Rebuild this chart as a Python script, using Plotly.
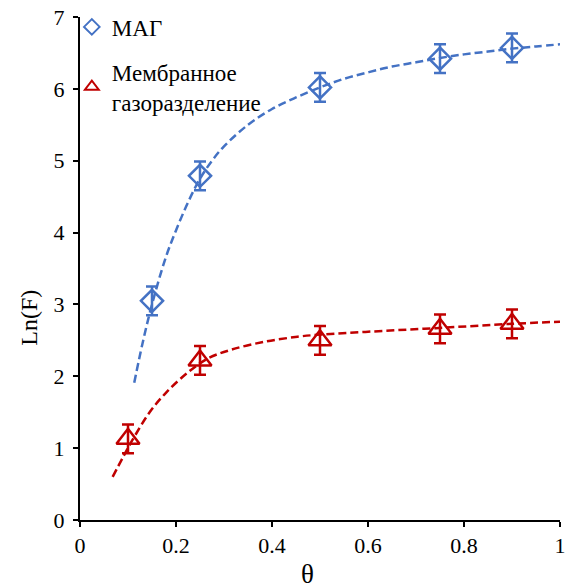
import plotly.graph_objects as go

# Experimental points
theta_mag = [0.15, 0.25, 0.5, 0.75, 0.9]
lnf_mag = [3.05, 4.79, 6.02, 6.42, 6.57]
err_mag = [0.2, 0.2, 0.2, 0.2, 0.2]

theta_mem = [0.1, 0.25, 0.5, 0.75, 0.9]
lnf_mem = [1.13, 2.22, 2.5, 2.66, 2.73]
err_mem = [0.2, 0.2, 0.2, 0.2, 0.2]

# Trend lines
trend_mag_x = [0.113, 0.13, 0.15, 0.179, 0.2, 0.225, 0.25, 0.275, 0.3, 0.35, 0.4, 0.45, 0.5, 0.55, 0.6, 0.65, 0.7, 0.75, 0.8, 0.85, 0.9, 0.95, 1.0]
trend_mag_y = [1.91, 2.45, 3.0, 3.66, 4.03, 4.42, 4.75, 5.0, 5.2, 5.5, 5.72, 5.88, 6.02, 6.14, 6.23, 6.31, 6.37, 6.43, 6.48, 6.52, 6.56, 6.59, 6.62]

trend_mem_x = [0.068, 0.09, 0.109, 0.144, 0.179, 0.226, 0.267, 0.315, 0.384, 0.453, 0.5, 0.6, 0.741, 0.899, 1.0]
trend_mem_y = [0.6, 0.88, 1.11, 1.49, 1.77, 2.06, 2.25, 2.37, 2.48, 2.55, 2.58, 2.62, 2.67, 2.73, 2.76]

x_title = "θ"
y_title = "Ln(F)"

BLUE = "#4472C4"
RED = "#C00000"
FONT = "Liberation Serif"

fig = go.Figure()

fig.add_trace(go.Scatter(
    x=trend_mag_x, y=trend_mag_y, mode="lines", line_shape="spline",
    line=dict(color=BLUE, width=2.5, dash="8px,4px"), showlegend=False, hoverinfo="skip"))
fig.add_trace(go.Scatter(
    x=trend_mem_x, y=trend_mem_y, mode="lines", line_shape="spline",
    line=dict(color=RED, width=2.5, dash="8px,4px"), showlegend=False, hoverinfo="skip"))

fig.add_trace(go.Scatter(
    x=theta_mag, y=lnf_mag, mode="markers", name="МАГ", legendgroup="a",
    marker=dict(symbol="diamond-open", size=17, color=BLUE, line=dict(width=2.5, color=BLUE)),
    error_y=dict(type="data", array=err_mag, color=BLUE, thickness=2.5, width=6)))
fig.add_trace(go.Scatter(
    x=theta_mem, y=lnf_mem, mode="markers", name="Мембранное<br>газоразделение", legendgroup="b",
    marker=dict(symbol="triangle-up-open", size=20, color=RED, line=dict(width=2.5, color=RED)),
    error_y=dict(type="data", array=err_mem, color=RED, thickness=2.5, width=6)))

fig.add_annotation(text=x_title, xref="paper", yref="paper", x=(310 - 80) / 486, y=-(574 - 520) / 503,
                   xanchor="center", yanchor="middle", showarrow=False,
                   font=dict(family=FONT, size=27, color="black"))
fig.add_annotation(text=y_title, xref="paper", yref="paper", x=-(80 - 28) / 486, y=(520 - 318) / 503,
                   xanchor="center", yanchor="middle", showarrow=False, textangle=-90,
                   font=dict(family=FONT, size=24, color="black"))

fig.update_layout(
    width=569, height=588,
    margin=dict(l=80, r=3, t=17, b=68),
    paper_bgcolor="white", plot_bgcolor="white",
    font=dict(family=FONT, size=21, color="black"),
    showlegend=True,
    legend=dict(x=-0.017, y=1.023, xanchor="left", yanchor="top", traceorder="grouped",
                bgcolor="rgba(0,0,0,0)", font=dict(family=FONT, size=23, color="black"),
                itemsizing="constant", tracegroupgap=12),
    xaxis=dict(range=[0, 1], tickvals=[0, 0.2, 0.4, 0.6, 0.8, 1], ticktext=["0", "0.2", "0.4", "0.6", "0.8", "1"],
               showgrid=False, zeroline=False, showline=True, linecolor="black", linewidth=2,
               ticks="outside", ticklen=5, tickwidth=2, tickcolor="black", ticklabeloverflow="allow",
               tickfont=dict(family=FONT, size=22)),
    yaxis=dict(range=[0, 7], dtick=1, showgrid=False, zeroline=False, showline=True,
               linecolor="black", linewidth=2, ticks="outside", ticklen=5, tickwidth=2, tickcolor="black",
               ticklabelstandoff=4, tickfont=dict(family=FONT, size=22)),
)

fig.write_html("out.html")
